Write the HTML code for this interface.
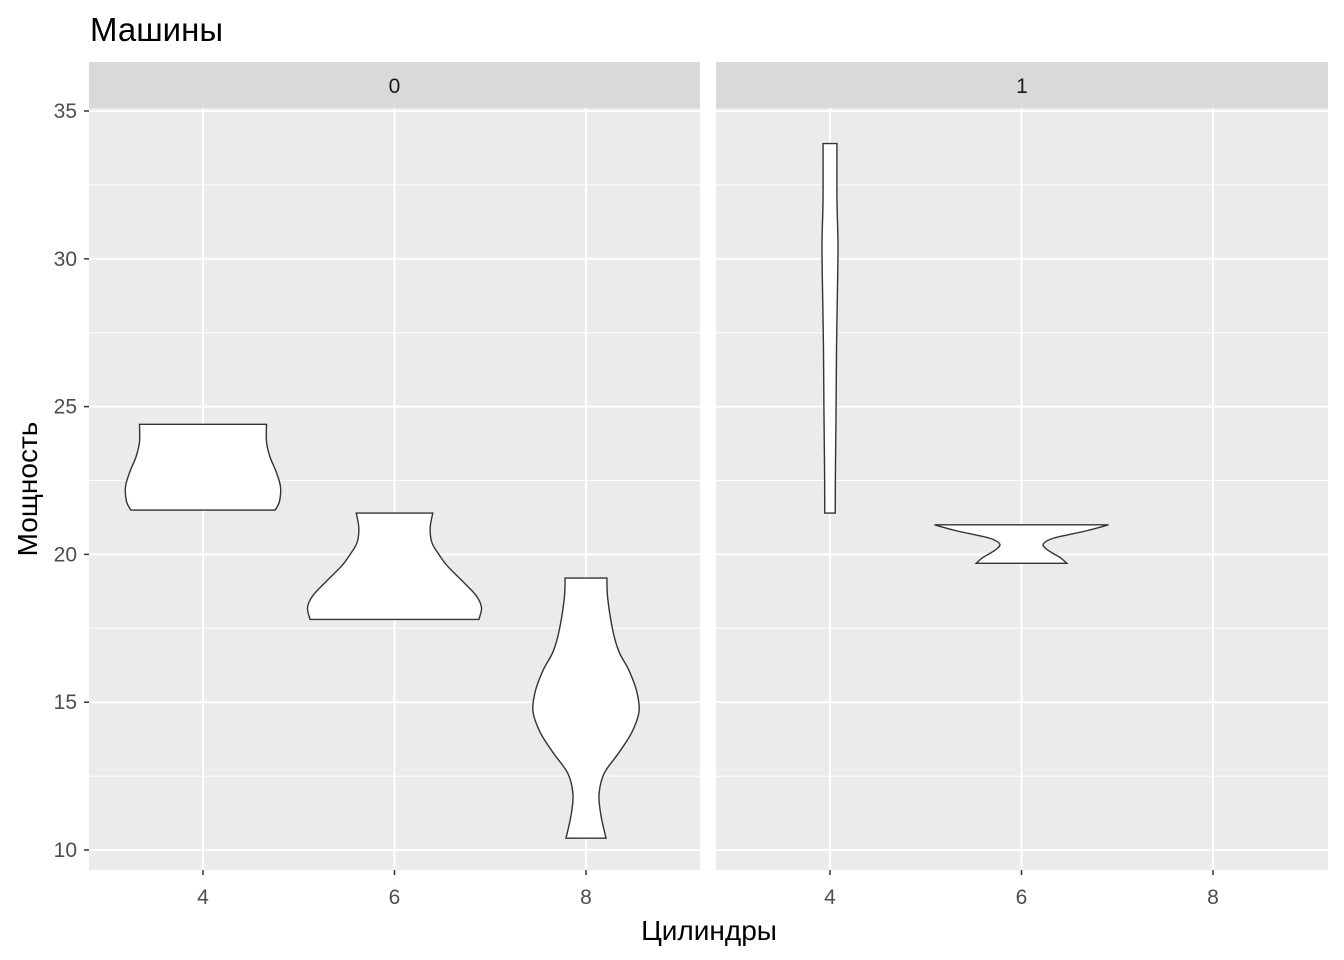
<!DOCTYPE html>
<html><head><meta charset="utf-8"><style>
body{margin:0;background:#fff}
svg{display:block;font-family:"Liberation Sans",Arial,sans-serif}
</style></head><body>
<svg id="c" width="1344" height="960"></svg>
<script>
const facets=["0","1"];
const yTicks=[10,15,20,25,30,35];
const xTicks=[4,6,8];
// violins: facet index, cyl, mpg samples and relative density (1 = max width)
const v0_4_mpg=[21.5,21.8,22.3,22.8,23.3,23.8,24.4];
const v0_4_den=[0.83,0.88,0.89,0.84,0.77,0.73,0.73];
const v0_6_mpg=[17.8,18.2,18.6,19.1,19.6,20.0,20.4,20.9,21.4];
const v0_6_den=[0.97,1.0,0.94,0.78,0.61,0.51,0.43,0.41,0.44];
const v0_8_mpg=[10.4,11.2,11.9,12.6,13.3,14.0,14.7,15.4,16.1,16.7,17.4,18.5,19.2];
const v0_8_den=[0.23,0.17,0.15,0.21,0.38,0.53,0.61,0.58,0.49,0.38,0.31,0.25,0.24];
const v1_4_mpg=[21.4,23,25,27,29,30.5,32,33.9];
const v1_4_den=[0.06,0.063,0.07,0.075,0.086,0.092,0.08,0.08];
const v1_6_mpg=[19.7,19.9,20.15,20.35,20.55,20.8,21.0];
const v1_6_den=[0.52,0.44,0.3,0.25,0.37,0.75,1.0];
const violins=[[0,4,v0_4_mpg,v0_4_den],[0,6,v0_6_mpg,v0_6_den],[0,8,v0_8_mpg,v0_8_den],[1,4,v1_4_mpg,v1_4_den],[1,6,v1_6_mpg,v1_6_den]];

const NS="http://www.w3.org/2000/svg",svg=document.getElementById('c');
function mk(t,a,txt,p){const e=document.createElementNS(NS,t);for(const k in a)e.setAttribute(k,a[k]);if(txt!=null)e.textContent=txt;(p||svg).appendChild(e);return e;}
const panels=[[89,700],[716,1328]],PT=108,PB=870;
const y=v=>111+(35-v)*(739/25);
const x=(f,c)=>panels[f][0]+114+(c-4)*95.75;
const maxHW=87;

panels.forEach((p,f)=>{
  let r=mk('rect',{x:p[0],y:PT,width:p[1]-p[0],height:PB-PT,fill:'#ebebeb'});
  
  for(let v=10;v<35;v+=5){mk('line',{x1:p[0],x2:p[1],y1:y(v+2.5),y2:y(v+2.5),stroke:'#fff','stroke-width':1});}
  yTicks.forEach(v=>mk('line',{x1:p[0],x2:p[1],y1:y(v),y2:y(v),stroke:'#fff','stroke-width':2}));
  xTicks.forEach(c=>{mk('line',{x1:x(f,c),x2:x(f,c),y1:PT,y2:PB,stroke:'#fff','stroke-width':2});
    mk('line',{x1:x(f,c),x2:x(f,c),y1:PB,y2:PB+5,stroke:'#333','stroke-width':1.5});
    let t=mk('text',{x:x(f,c),y:PB+34,'text-anchor':'middle','font-size':21,fill:'#4d4d4d'},c);
    });
  let s=mk('rect',{x:p[0],y:62,width:p[1]-p[0],height:46,fill:'#d9d9d9'});
  
  let st=mk('text',{x:(p[0]+p[1])/2,y:93,'text-anchor':'middle','font-size':21,fill:'#1a1a1a'},facets[f]);
  
});
yTicks.forEach(v=>{mk('line',{x1:84,x2:89,y1:y(v),y2:y(v),stroke:'#333','stroke-width':1.5});
  let t=mk('text',{x:77,y:y(v)+7,'text-anchor':'end','font-size':21,fill:'#4d4d4d'},v);
  });

function smooth(pts){let d='M'+pts[0][0]+','+pts[0][1];
  for(let i=0;i<pts.length-1;i++){const p0=pts[Math.max(0,i-1)],p1=pts[i],p2=pts[i+1],p3=pts[Math.min(pts.length-1,i+2)];
    d+=' C'+(p1[0]+(p2[0]-p0[0])/6)+','+(p1[1]+(p2[1]-p0[1])/6)+' '+(p2[0]-(p3[0]-p1[0])/6)+','+(p2[1]-(p3[1]-p1[1])/6)+' '+p2[0]+','+p2[1];}
  return d;}
violins.forEach(([f,c,m,d])=>{
  const cx=x(f,c);
  const right=m.map((v,i)=>[cx+d[i]*maxHW,y(v)]);
  const left=m.map((v,i)=>[cx-d[i]*maxHW,y(v)]).reverse();
  let path=smooth(right)+' L'+left[0][0]+','+left[0][1]+smooth(left).replace(/^M[^C]*/,' ')+' Z';
  let e=mk('path',{d:path,fill:'#fff',stroke:'#333','stroke-width':1.4});
  
  
});
let t1=mk('text',{x:90,y:41,'font-size':33,fill:'#000'},'Машины');

let t2=mk('text',{x:709,y:940,'text-anchor':'middle','font-size':28,fill:'#000'},'Цилиндры');

let t3=mk('text',{x:0,y:0,'text-anchor':'middle','font-size':28,fill:'#000',transform:'translate(37,489) rotate(-90)'},'Мощность');

</script>
</body></html>
